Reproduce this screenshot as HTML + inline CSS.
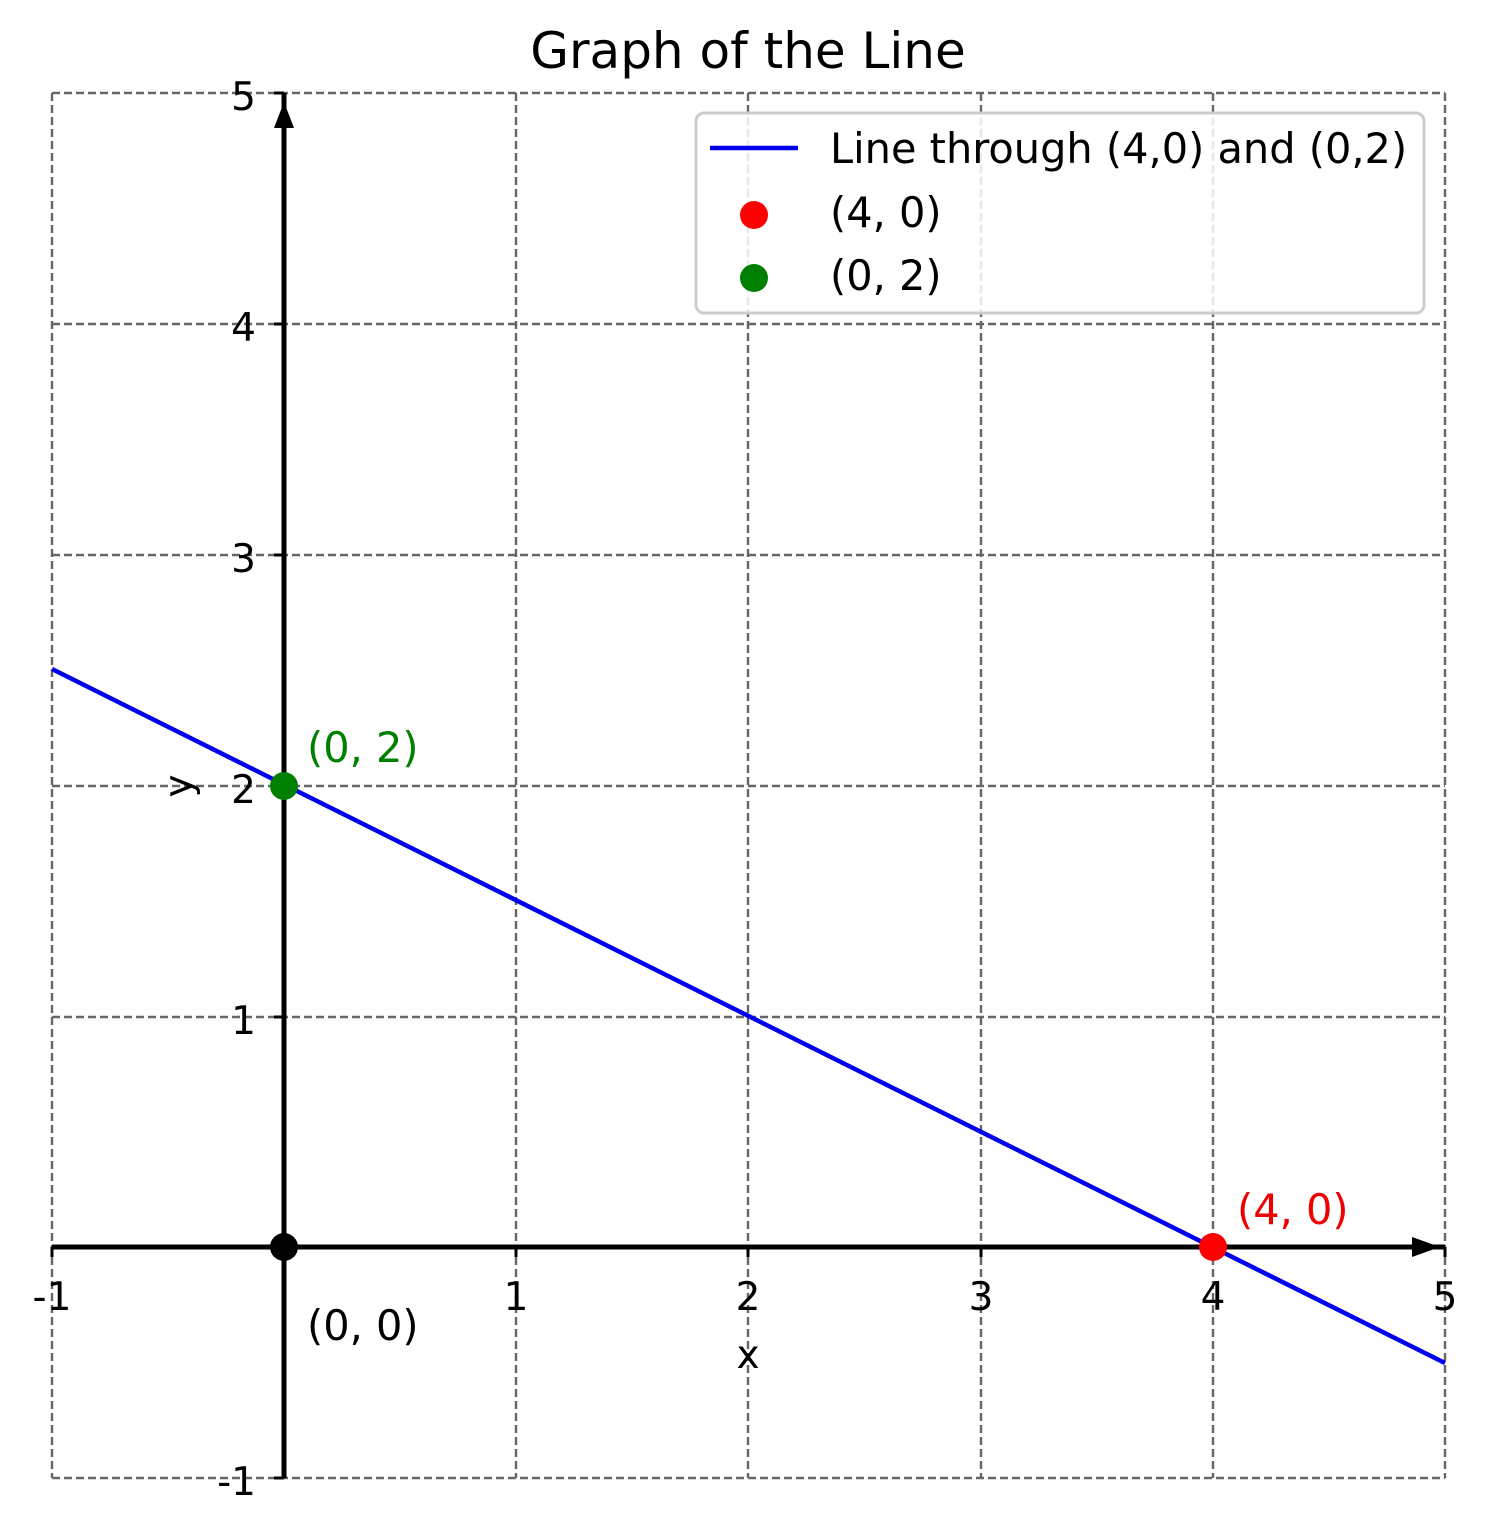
<!DOCTYPE html>
<html><head><style>body{margin:0;background:#fff}</style></head><body>
<svg width="1488" height="1534" xmlns="http://www.w3.org/2000/svg" font-family="DejaVu Sans, Liberation Sans, sans-serif">
<rect width="1488" height="1534" fill="#fff"/>
<text x="748" y="68" font-size="50" text-anchor="middle">Graph of the Line</text>
<g stroke="#666" stroke-width="2.4" stroke-dasharray="8,4" fill="none">
<line x1="52" y1="93" x2="52" y2="1478"/><line x1="516" y1="93" x2="516" y2="1478"/><line x1="748" y1="93" x2="748" y2="1478"/><line x1="981" y1="93" x2="981" y2="1478"/><line x1="1213" y1="93" x2="1213" y2="1478"/><line x1="1445" y1="93" x2="1445" y2="1478"/>
<line x1="52" y1="93" x2="1445" y2="93"/><line x1="52" y1="324" x2="1445" y2="324"/><line x1="52" y1="555" x2="1445" y2="555"/><line x1="52" y1="786" x2="1445" y2="786"/><line x1="52" y1="1017" x2="1445" y2="1017"/><line x1="52" y1="1478" x2="1445" y2="1478"/>
</g>
<line x1="284" y1="93" x2="284" y2="1478" stroke="#000" stroke-width="5"/>
<line x1="52" y1="1247" x2="1445" y2="1247" stroke="#000" stroke-width="5"/>
<polygon points="284,102 274,128 294,128" fill="#000"/>
<polygon points="1440,1247 1412,1237 1412,1257" fill="#000"/>
<g stroke="#000" stroke-width="3">
<line x1="274" y1="93" x2="284" y2="93"/><line x1="274" y1="324" x2="284" y2="324"/><line x1="274" y1="555" x2="284" y2="555"/><line x1="274" y1="786" x2="284" y2="786"/><line x1="274" y1="1017" x2="284" y2="1017"/><line x1="274" y1="1478" x2="284" y2="1478"/>
<line x1="52" y1="1247" x2="52" y2="1257"/><line x1="516" y1="1247" x2="516" y2="1257"/><line x1="748" y1="1247" x2="748" y2="1257"/><line x1="981" y1="1247" x2="981" y2="1257"/><line x1="1213" y1="1247" x2="1213" y2="1257"/><line x1="1445" y1="1247" x2="1445" y2="1257"/>
</g>
<g font-size="39" text-anchor="end">
<text x="256" y="110">5</text><text x="256" y="341">4</text><text x="256" y="572">3</text><text x="256" y="803">2</text><text x="256" y="1034">1</text><text x="256" y="1495">-1</text>
</g>
<g font-size="39" text-anchor="middle">
<text x="52" y="1310">-1</text><text x="516" y="1310">1</text><text x="748" y="1310">2</text><text x="981" y="1310">3</text><text x="1213" y="1310">4</text><text x="1445" y="1310">5</text>
<text x="748" y="1368">x</text>
</g>
<text x="0" y="0" font-size="39" text-anchor="middle" transform="translate(192,786) rotate(-90)">y</text>
<line x1="52" y1="669" x2="1445" y2="1363" stroke="#0000ee" stroke-width="4.5"/>
<circle cx="284" cy="1247" r="14" fill="#000"/>
<circle cx="284" cy="786" r="14" fill="#008000"/>
<circle cx="1213" cy="1247" r="14" fill="#ff0000"/>
<text x="307" y="762" font-size="41.5" fill="#008000">(0, 2)</text>
<text x="1237" y="1224" font-size="41.5" fill="#ee0000">(4, 0)</text>
<text x="307" y="1340" font-size="41.5">(0, 0)</text>
<rect x="696" y="113" width="728" height="200" rx="8" fill="#fff" fill-opacity="0.85" stroke="#ccc" stroke-width="3"/>
<line x1="710" y1="148" x2="798" y2="148" stroke="#0000ee" stroke-width="4.5"/>
<circle cx="754" cy="215" r="14" fill="#ff0000"/>
<circle cx="754" cy="278" r="14" fill="#008000"/>
<g font-size="41.5"><text x="830" y="163">Line through (4,0) and (0,2)</text><text x="830" y="227">(4, 0)</text><text x="830" y="290">(0, 2)</text></g>
</svg>
</body></html>
